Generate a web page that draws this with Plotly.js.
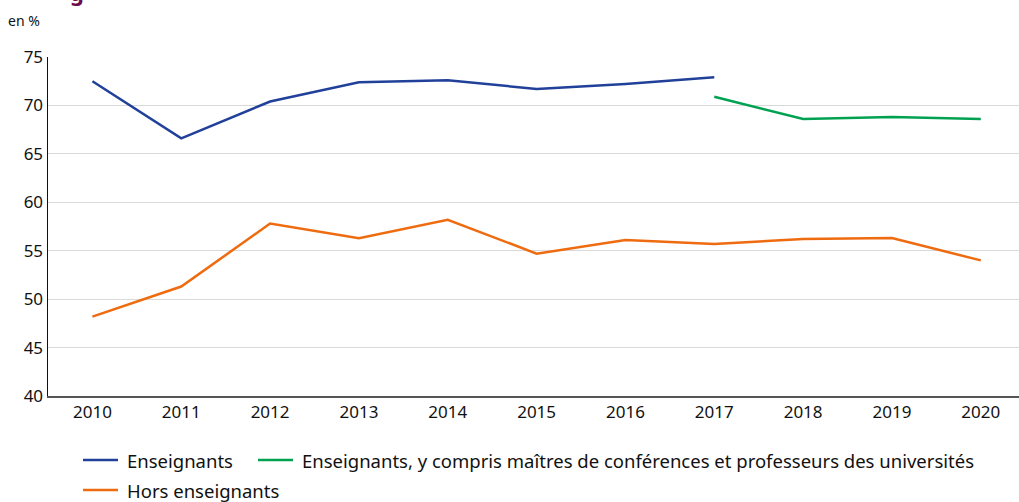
<!DOCTYPE html>
<html><head><meta charset="utf-8">
<script src="https://cdn.plot.ly/plotly-3.0.1.min.js"></script>
<style>html,body{margin:0;padding:0;background:#fff}#chart{width:1019px;height:502px}</style>
</head><body><div id="chart"></div>
<script>
const years = [2010,2011,2012,2013,2014,2015,2016,2017,2018,2019,2020];
const enseignants = [72.5,66.6,70.4,72.4,72.6,71.7,72.2,72.9,null,null,null];
const enseignantsUniv = [null,null,null,null,null,null,null,70.9,68.6,68.8,68.6];
const horsEnseignants = [48.2,51.3,57.8,56.3,58.2,54.7,56.1,55.7,56.2,56.3,54.0];
const names = ["Enseignants","Enseignants, y compris maîtres de conférences et professeurs des universités","Hors enseignants"];
const colors = ["#21409a","#00a251","#ef6b10"];
const series = [enseignants, enseignantsUniv, horsEnseignants];
const FONT = "Noto Sans, sans-serif";
const traces = series.map((s,i)=>({x:years,y:s,name:names[i],type:"scatter",mode:"lines",
  line:{color:colors[i],width:2.5},connectgaps:false,showlegend:false}));

// legend drawn as paper-positioned keys (pixel layout: plot left 48, width 971, bottom 396, height 339)
const L = 48, W = 971, B = 396, H = 339;
const px = v => (v - L) / W, py = v => -(v - B) / H;
const legendPos = [[83, 460], [258, 460], [83, 490]];
const shapes = [], annotations = [];
legendPos.forEach(([x, y], i) => {
  shapes.push({type:"line", xref:"paper", yref:"paper", x0:px(x), x1:px(x+35), y0:py(y), y1:py(y),
    line:{color:colors[i], width:2.5}});
  annotations.push({xref:"paper", yref:"paper", x:px(x+42), y:py(y), xanchor:"left", yanchor:"middle",
    text:names[i], showarrow:false, font:{family:FONT, size:18.5, color:"#111"}});
});
annotations.push({xref:"paper",yref:"paper",x:-0.043,y:1.075,xanchor:"left",yanchor:"bottom",text:"en %",showarrow:false,
  font:{family:FONT,size:14,color:"#111"}});
annotations.push({xref:"paper",yref:"paper",x:0.0205,y:1.143,xanchor:"left",yanchor:"bottom",text:"<b>g</b>",showarrow:false,
  font:{family:FONT,size:22,color:"#6e0a4e"}});

const layout = {
  width:1019,height:502,
  margin:{l:L,r:0,t:57,b:106},
  paper_bgcolor:"#fff",plot_bgcolor:"#fff",
  font:{family:FONT,size:17,color:"#111"},
  showlegend:false,
  xaxis:{range:[2009.5,2020.43],tickmode:"array",tickvals:years,ticktext:years.map(String),
    showgrid:false,zeroline:false,showline:true,linecolor:"#555",linewidth:1.5,
    ticks:"",tickfont:{size:17,color:"#111"},fixedrange:true,automargin:false},
  yaxis:{range:[40,75],tickvals:[40,45,50,55,60,65,70,75],showgrid:true,gridcolor:"#d9d9d9",gridwidth:1,
    zeroline:false,showline:true,linecolor:"#111",linewidth:1.5,ticks:"",ticklen:0,
    tickfont:{size:17,color:"#111"},fixedrange:true,automargin:false},
  shapes:shapes,
  annotations:annotations
};
Plotly.newPlot("chart",traces,layout,{displayModeBar:false,staticPlot:true});
</script></body></html>
